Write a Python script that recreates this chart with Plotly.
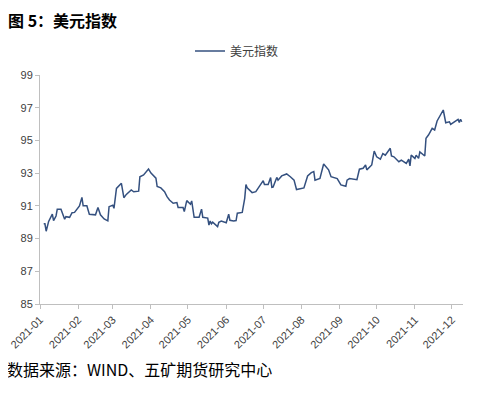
import plotly.graph_objects as go

dates = [
    "2021-01-04","2021-01-05","2021-01-06","2021-01-08","2021-01-11","2021-01-12","2021-01-14","2021-01-15",
    "2021-01-18","2021-01-19","2021-01-21","2021-01-22","2021-01-25","2021-01-27","2021-01-29",
    "2021-02-02","2021-02-04","2021-02-05","2021-02-08","2021-02-10","2021-02-15","2021-02-17","2021-02-19",
    "2021-02-22","2021-02-25","2021-02-26",
    "2021-03-01","2021-03-02","2021-03-04","2021-03-08","2021-03-10","2021-03-12","2021-03-16","2021-03-18",
    "2021-03-22","2021-03-23","2021-03-26","2021-03-30",
    "2021-04-01","2021-04-05","2021-04-06","2021-04-09","2021-04-12","2021-04-14","2021-04-16","2021-04-19",
    "2021-04-22","2021-04-23","2021-04-27","2021-04-28","2021-04-30",
    "2021-05-03","2021-05-04","2021-05-06","2021-05-10","2021-05-12","2021-05-13","2021-05-17","2021-05-18",
    "2021-05-19","2021-05-20","2021-05-21","2021-05-25","2021-05-26","2021-05-28",
    "2021-06-01","2021-06-03","2021-06-04","2021-06-07","2021-06-09","2021-06-10","2021-06-14","2021-06-16",
    "2021-06-17","2021-06-18","2021-06-22","2021-06-25",
    "2021-07-01","2021-07-02","2021-07-05","2021-07-07","2021-07-08","2021-07-09","2021-07-12","2021-07-13",
    "2021-07-16","2021-07-20","2021-07-23","2021-07-26","2021-07-28",
    "2021-08-02","2021-08-03","2021-08-06","2021-08-09","2021-08-11","2021-08-12","2021-08-16","2021-08-19",
    "2021-08-23","2021-08-25","2021-08-30",
    "2021-09-02","2021-09-06","2021-09-07","2021-09-09","2021-09-13","2021-09-15","2021-09-17","2021-09-20",
    "2021-09-22","2021-09-23","2021-09-27","2021-09-29",
    "2021-10-01","2021-10-04","2021-10-06","2021-10-08","2021-10-12","2021-10-13","2021-10-15","2021-10-19",
    "2021-10-21","2021-10-25","2021-10-27","2021-10-28","2021-10-29",
    "2021-11-01","2021-11-02","2021-11-04","2021-11-05","2021-11-09","2021-11-10","2021-11-12","2021-11-15",
    "2021-11-17","2021-11-19","2021-11-22","2021-11-24","2021-11-26","2021-11-29","2021-11-30",
    "2021-12-03","2021-12-06","2021-12-07","2021-12-08","2021-12-09",
]

dxy = [
    89.90, 89.90, 89.45, 90.05, 90.50, 90.10, 90.38, 90.80,
    90.80, 90.55, 90.18, 90.34, 90.30, 90.58, 90.60,
    91.00, 91.52, 91.00, 91.00, 90.49, 90.45, 90.90, 90.45,
    90.20, 90.08, 90.95,
    91.04, 90.85, 92.07, 92.38, 91.50, 91.70, 91.97, 91.86,
    91.90, 92.78, 92.89, 93.25,
    93.00, 92.69, 92.18, 92.10, 91.87, 91.56, 91.36, 91.16,
    91.20, 90.90, 90.90, 90.65, 91.32,
    91.10, 91.30, 90.30, 90.30, 90.80, 90.30, 90.25, 89.83,
    90.07, 89.90, 90.00, 89.73, 90.00, 90.07,
    89.97, 90.49, 90.12, 90.07, 90.10, 90.55, 90.60, 91.46,
    92.30, 92.10, 91.81, 91.87,
    92.54, 92.30, 92.30, 92.73, 92.13, 92.15, 92.74, 92.57,
    92.83, 92.95, 92.78, 92.57, 92.00,
    92.10, 92.10, 92.83, 93.03, 93.10, 92.57, 92.67, 93.56,
    93.20, 92.78, 92.67,
    92.28, 92.20, 92.57, 92.67, 92.60, 92.60, 93.24, 93.30,
    93.50, 93.20, 93.50, 94.35,
    94.00, 93.85, 94.20, 94.10, 94.52, 94.05, 94.00, 93.70,
    93.80, 93.60, 93.85, 93.44, 94.10,
    93.90, 94.10, 93.90, 94.30, 94.05, 95.13, 95.33, 95.74,
    95.64, 96.19, 96.55, 96.86, 96.08, 96.14, 95.98,
    96.14, 96.29, 96.10, 96.29, 96.14,
]

tick_vals = ["2021-%02d-01" % m for m in range(1, 13)]
tick_text = ["2021-%02d" % m for m in range(1, 13)]
y_ticks = [85, 87, 89, 91, 93, 95, 97, 99]

# the page body adds an 8px margin; figure is sized to fit inside the window
W, H = 461, 378
L, R, T, B = 32, 6, 67, 82
PW, PH = W - L - R, H - T - B

fig = go.Figure()
fig.add_trace(go.Scatter(
    x=dates, y=dxy, mode="lines", name="美元指数",
    line=dict(color="#34507f", width=1.5),
))

axis_color = "#bfbfbf"
fig.update_layout(
    template="none",
    width=W, height=H,
    margin=dict(l=L, r=R, t=T, b=B, autoexpand=False),
    paper_bgcolor="white", plot_bgcolor="white",
    font=dict(family="Liberation Sans, Arial, sans-serif", color="#404040", size=11),
    showlegend=True,
    legend=dict(orientation="h", x=(237 - 8) / W, xanchor="center", xref="container",
                y=(H - 43) / H, yanchor="middle", yref="container",
                itemwidth=30, bgcolor="rgba(0,0,0,0)",
                font=dict(family="Noto Sans CJK SC", size=12, color="#404040")),
    xaxis=dict(
        type="date", range=["2021-01-01", "2021-12-10"], automargin=False,
        tickvals=tick_vals, ticktext=tick_text, tickangle=-45,
        ticks="outside", ticklen=4, tickcolor=axis_color,
        showline=True, linecolor=axis_color, linewidth=1,
        showgrid=False, zeroline=False,
        tickfont=dict(size=11, color="#404040"),
    ),
    yaxis=dict(
        range=[85, 99], tickvals=y_ticks, automargin=False,
        ticks="outside", ticklen=4, tickcolor=axis_color,
        showline=True, linecolor=axis_color, linewidth=1,
        showgrid=False, zeroline=False,
        tickfont=dict(size=11, color="#404040"),
    ),
)

fig.add_annotation(
    text="<b>图 5：美元指数</b>", xref="paper", yref="paper",
    x=(-2 - L) / PW, y=1 + (T + 2) / PH, xanchor="left", yanchor="top",
    showarrow=False,
    font=dict(family="Noto Sans CJK SC", size=16, color="#000000"),
)
fig.add_annotation(
    text="数据来源：WIND、五矿期货研究中心", xref="paper", yref="paper",
    x=(-3 - L) / PW, y=-(375 - (T + PH)) / PH, xanchor="left", yanchor="bottom",
    showarrow=False,
    font=dict(family="Noto Sans CJK SC", size=16, color="#000000"),
)

fig.write_html("out.html")
